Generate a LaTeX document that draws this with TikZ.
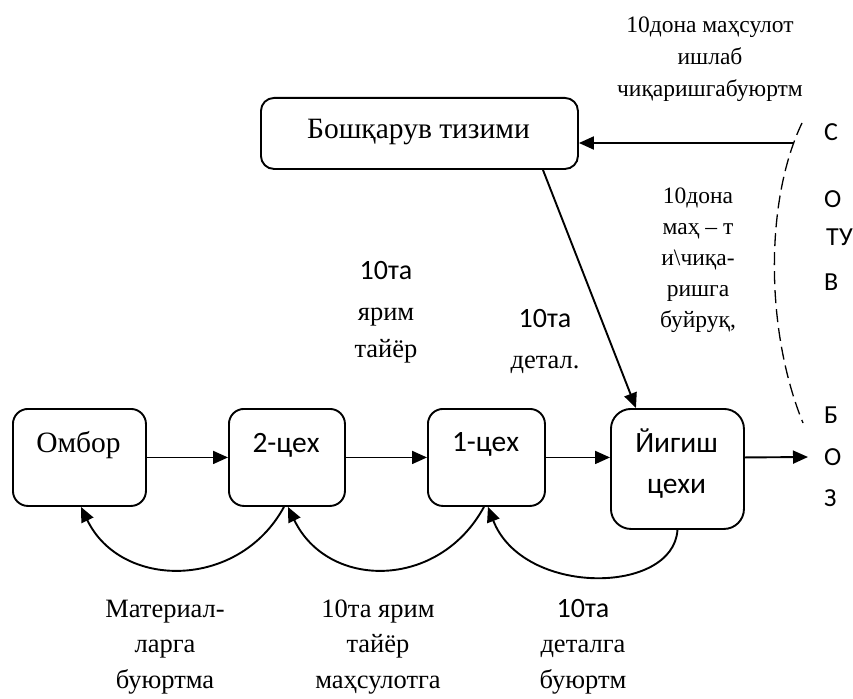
\documentclass[tikz,border=0pt]{standalone}
\usepackage{fontspec}
\setmainfont{Liberation Serif}
\newfontfamily\calfont{Carlito}
\usetikzlibrary{arrows.meta,calc}
\begin{document}
\begin{tikzpicture}[x=1pt,y=-1pt,
  box/.style={draw,line width=1.9pt,rounded corners=15pt,inner sep=0pt,anchor=north west},
  arr/.style={line width=1.9pt,-{Triangle[length=15pt,width=13pt]}},
  dash line/.style={line width=1.3pt,dash pattern=on 13pt off 6pt},
  bigser/.style={inner sep=0pt,anchor=base,font=\fontsize{29.5}{34}\selectfont},
  bigsan/.style={inner sep=0pt,anchor=base,font=\calfont\fontsize{29.5}{34}\selectfont},
  midser/.style={inner sep=0pt,anchor=base,font=\fontsize{26.5}{32}\selectfont},
  midsan/.style={inner sep=0pt,anchor=base,font=\calfont\fontsize{28}{32}\selectfont},
  smser/.style={inner sep=0pt,anchor=base,font=\fontsize{23.5}{28}\selectfont},
  letter/.style={inner sep=0pt,anchor=base west,font=\calfont\fontsize{26}{28}\selectfont}
]
\useasboundingbox (0,0) rectangle (853,698);

% boxes
\node[box,minimum width=133pt,minimum height=97pt] (omb) at (12,408) {};
\node[box,minimum width=116pt,minimum height=97pt] (c2) at (228,408) {};
\node[box,minimum width=117pt,minimum height=97pt] (c1) at (427,408) {};
\node[box,minimum width=133pt,minimum height=120pt,rounded corners=20pt] (yig) at (610,408) {};
\node[box,minimum width=317pt,minimum height=71pt,rounded corners=13pt] (bosh) at (260,97) {};

% box texts
\node[bigser] (tOmb) at (78.5,452) {Омбор};
\node[bigsan] (tC2) at (286,452) {2-цех};
\node[bigsan] (tC1) at (485.5,451) {1-цех};
\node[bigsan] (tYig1) at (676.5,452) {Йигиш};
\node[bigsan] (tYig2) at (676.5,493) {цехи};
\node[bigser] (tBosh) at (418.5,138) {Бошқарув тизими};

% horizontal flow
\coordinate (out) at (808,457);
\draw[arr] (omb.east) -- (c2.west);
\draw[arr] (c2.east) -- (c1.west);
\draw[arr] (c1.east) -- (c1.east -| yig.west);
\draw[arr] (c1.east -| yig.east) -- (out);

% control
\coordinate (sales) at (793,143);
\draw[arr] (sales) -- (sales -| bosh.east);
\draw[arr] ([xshift=123.5pt]bosh.south) -- ([xshift=-41.5pt]yig.north);

% dashed boundary
\coordinate (dA) at (802,123);
\coordinate (dB) at (803,423);
\draw[dash line] (dA) .. controls (765,200) and (765,330) .. (dB);

% feedback arcs
\draw[arr] ([xshift=-3pt]c2.south) .. controls ($(c2.south)+(-48,83)$) and ($(omb.south)+(41.5,83)$) .. ([xshift=1.5pt]omb.south);
\draw[arr] ([xshift=-2.5pt]c1.south) .. controls ($(c1.south)+(-47.5,83)$) and ($(c2.south)+(41,83)$) .. ([xshift=1pt]c2.south);
\draw[arr] (yig.south) .. controls ($(yig.south)+(-4,65)$) and ($(c1.south)+(36.5,90)$) .. ([xshift=1.5pt]c1.south);

% letters
\node[letter] (lS) at (824,140) {С};
\node[letter] (lO1) at (824,207) {О};
\node[letter] (lTU) at (826,245) {ТУ};
\node[letter] (lV) at (824,290) {В};
\node[letter] (lB) at (824,423) {Б};
\node[letter] (lO2) at (824,465) {О};
\node[letter] (lZ) at (824,506) {З};

% top right text
\node[smser] (tr1) at (710,33) {10дона маҳсулот};
\node[smser] (tr2) at (710,65) {ишлаб};
\node[smser] (tr3) at (710,97) {чиқаришгабуюртм};

% middle right text
\node[smser] (mr1) at (698,203) {10дона};
\node[smser] (mr2) at (698,234) {маҳ – т};
\node[smser] (mr3) at (698,265) {и\textbackslash чиқа-};
\node[smser] (mr4) at (698,296) {ришга};
\node[smser] (mr5) at (698,327) {буйруқ,};

% middle labels
\node[midsan] (m1) at (386,279) {10та};
\node[midser] (m2) at (386,320) {ярим};
\node[midser] (m3) at (386,357) {тайёр};
\node[midsan] (m4) at (545,327) {10та};
\node[midser] (m5) at (545,368) {детал.};

% bottom labels
\node[midser] (b1) at (165,617) {Материал-};
\node[midser] (b2) at (165,652) {ларга};
\node[midser] (b3) at (165,688) {буюртма};
\node[midser] (b4) at (378,617) {10та ярим};
\node[midser] (b5) at (378,652) {тайёр};
\node[midser] (b6) at (378,688) {маҳсулотга};
\node[midsan] (b7) at (583,617) {10та};
\node[midser] (b8) at (583,652) {деталга};
\node[midser] (b9) at (583,688) {буюртм};
\end{tikzpicture}
\end{document}
